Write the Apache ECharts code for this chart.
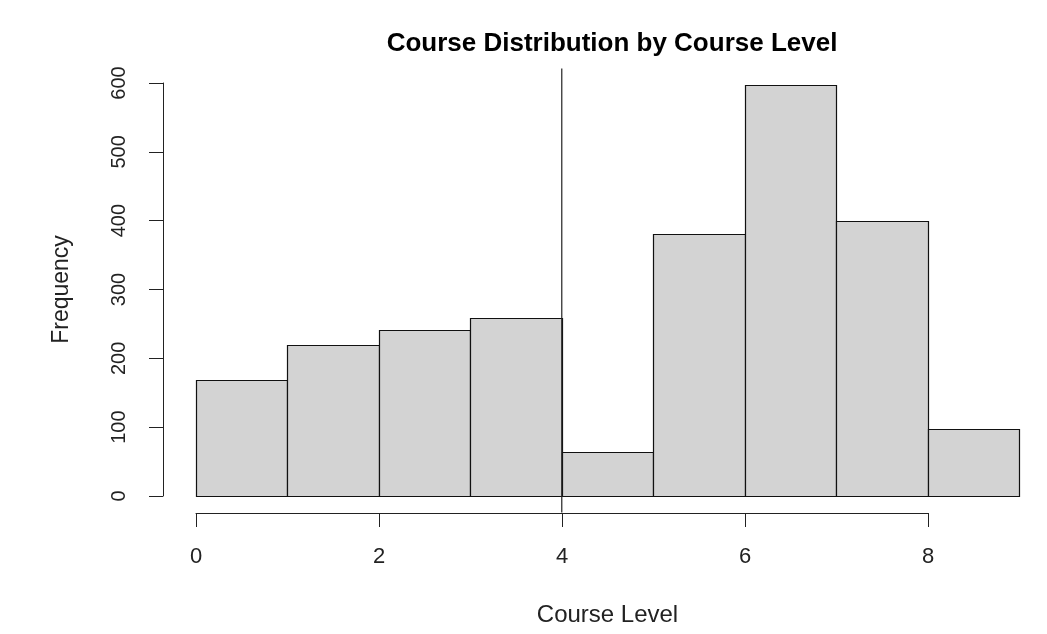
<!DOCTYPE html>
<html>
<head>
<meta charset="utf-8">
<script src="https://cdn.jsdelivr.net/npm/echarts@6/dist/echarts.min.js"></script>
<style>
html,body{margin:0;padding:0;background:#fff;}
#chart{width:1047px;height:634px;}
</style>
</head>
<body>
<div id="chart"></div>
<script>
// Histogram bins (Course Level) and frequencies
const binStarts = [0, 1, 2, 3, 4, 5, 6, 7, 8];
const binEnds   = [1, 2, 3, 4, 5, 6, 7, 8, 9];
const counts    = [169, 219, 241, 258, 64, 380, 597, 400, 97];
const xTicks    = [0, 2, 4, 6, 8];
const yTicks    = [0, 100, 200, 300, 400, 500, 600];
const vLineX    = 4;
const titleText = 'Course Distribution by Course Level';
const xName     = 'Course Level';
const yName     = 'Frequency';

const FONT = '"Liberation Sans", Arial, Helvetica, sans-serif';
const INK = '#222';

const histData = binStarts.map((s, i) => [s, binEnds[i], counts[i]]);

const chart = echarts.init(document.getElementById('chart'), null, {renderer: 'canvas'});
chart.setOption({
  animation: false,
  backgroundColor: '#fff',
  title: {
    text: titleText,
    left: 607,
    top: 26,
    textAlign: 'center',
    textStyle: {fontFamily: FONT, fontWeight: 'bold', fontSize: 26, color: '#000'}
  },
  grid: [
    {left: 196, width: 823, top: 68.5, height: 444, containLabel: false},
    {left: 163, width: 20, top: 83, height: 413, containLabel: false},
    {left: 196, width: 732, top: 512, height: 1, containLabel: false}
  ],
  xAxis: [
    {
      gridIndex: 0, type: 'value', min: 0, max: 9,
      axisLine: {show: false}, axisTick: {show: false}, axisLabel: {show: false}, splitLine: {show: false},
      name: xName, nameLocation: 'middle', nameGap: 91,
      nameTextStyle: {fontFamily: FONT, fontSize: 24, color: INK}
    },
    {gridIndex: 1, type: 'value', min: 0, max: 1, show: false},
    {
      gridIndex: 2, type: 'value', min: 0, max: 8, interval: 2,
      axisLine: {show: true, lineStyle: {color: INK, width: 1}},
      axisTick: {show: true, length: 14, lineStyle: {color: INK, width: 1}},
      axisLabel: {show: true, margin: 33, fontFamily: FONT, fontSize: 22, color: INK,
        formatter: v => xTicks.includes(v) ? String(v) : ''},
      splitLine: {show: false}
    }
  ],
  yAxis: [
    {gridIndex: 0, type: 'value', min: -24, max: 621, show: false, splitLine: {show: false}},
    {
      gridIndex: 1, type: 'value', min: 0, max: 600, interval: 100, position: 'left',
      axisLine: {show: true, lineStyle: {color: INK, width: 1}},
      axisTick: {show: true, length: 14, lineStyle: {color: INK, width: 1}},
      axisLabel: {show: true, rotate: 90, margin: 34, fontFamily: FONT, fontSize: 20, color: INK,
        formatter: v => yTicks.includes(v) ? String(v) : ''},
      splitLine: {show: false},
      name: yName, nameLocation: 'middle', nameGap: 90,
      nameTextStyle: {fontFamily: FONT, fontSize: 23, color: INK}
    },
    {gridIndex: 2, type: 'value', min: 0, max: 1, show: false}
  ],
  series: [
    {
      type: 'custom',
      xAxisIndex: 0, yAxisIndex: 0,
      data: histData,
      renderItem: function (params, api) {
        const p0 = api.coord([api.value(0), 0]);
        const p1 = api.coord([api.value(1), api.value(2)]);
        const x = Math.round(p0[0]) + 0.5, y = Math.round(p1[1]) + 0.5;
        const x2 = Math.round(p1[0]) + 0.5, y2 = Math.round(p0[1]) + 0.5;
        return {
          type: 'rect',
          shape: {x: x, y: y, width: x2 - x, height: y2 - y},
          style: {fill: '#d3d3d3', stroke: '#111', lineWidth: 1.2}
        };
      }
    },
    {
      type: 'line',
      xAxisIndex: 0, yAxisIndex: 0,
      data: [[vLineX, -24], [vLineX, 621]],
      symbol: 'none',
      lineStyle: {color: INK, width: 1.2},
      silent: true
    }
  ]
});
</script>
</body>
</html>
